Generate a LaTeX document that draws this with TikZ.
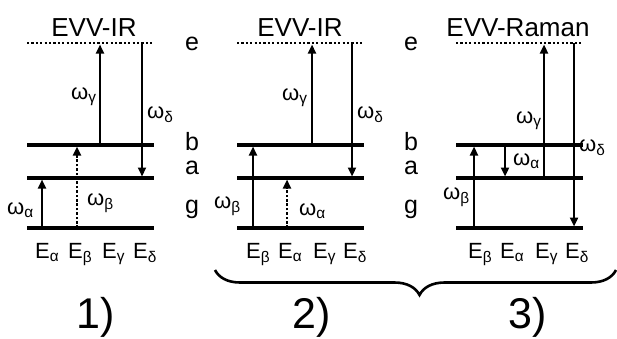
\documentclass[tikz,border=0pt]{standalone}
\usepackage{fontspec}
\setmainfont{Liberation Sans}
\usetikzlibrary{arrows.meta,decorations.pathreplacing}

\begin{document}
\begin{tikzpicture}[x=1pt,y=-1pt,
lvl/.style={line width=3.6pt},
virt/.style={line width=2.3pt,dash pattern=on 2.2pt off 2.2pt},
arr/.style={-{Triangle[length=9pt,width=8pt]},line width=2.2pt,shorten >=1.5pt},
darr/.style={arr,line width=2.8pt,dash pattern=on 2.6pt off 1.8pt},
tit/.style={anchor=base,inner sep=0pt,font=\fontsize{26}{30}\selectfont},
st/.style={anchor=base,inner sep=0pt,font=\fontsize{25}{28}\selectfont},
om/.style={anchor=base west,inner sep=0pt,font=\fontsize{22}{26}\selectfont},
en/.style={anchor=base west,inner sep=0pt,font=\fontsize{22}{26}\selectfont},
num/.style={anchor=base,inner sep=0pt,font=\fontsize{43}{48}\selectfont},
brc/.style={line width=2.6pt,decorate,decoration={brace,mirror,amplitude=25pt,aspect=0.51}}]
\useasboundingbox (0,0) rectangle (617,338);
\foreach \n/\l in {1/27,2/237,3/456}{
\coordinate (e\n) at (\l,43); \coordinate (b\n) at (\l,145);
\coordinate (a\n) at (\l,178); \coordinate (g\n) at (\l,228);
\draw[virt] (e\n) -- ++(127,0);
\draw[lvl] (b\n) -- ++(127,0); \draw[lvl] (a\n) -- ++(127,0); \draw[lvl] (g\n) -- ++(127,0);}
\foreach \n/\x in {1/192,2/411}{
\node[st] (le\n) at (\x,50) {e}; \node[st] (lb\n) at (\x,150) {b};
\node[st] (la\n) at (\x,174) {a}; \node[st] (lg\n) at (\x,213) {g};}
\node[tit] (t1) at (94,36) {EVV-IR};
\node[tit] (t2) at (300,36) {EVV-IR};
\node[tit] (t3) at (518,36) {EVV-Raman};
\draw[arr] ([xshift=15]g1) -- ([xshift=15]a1);
\draw[darr] ([xshift=50]g1) -- ([xshift=50]b1);
\draw[arr] ([xshift=73]b1) -- ([xshift=73]e1);
\draw[arr] ([xshift=115]e1) -- ([xshift=115]a1);
\draw[arr] ([xshift=16]g2) -- ([xshift=16]b2);
\draw[darr] ([xshift=50]g2) -- ([xshift=50]a2);
\draw[arr] ([xshift=75]b2) -- ([xshift=75]e2);
\draw[arr] ([xshift=115]e2) -- ([xshift=115]a2);
\draw[arr] ([xshift=18]g3) -- ([xshift=18]b3);
\draw[arr] ([xshift=49]b3) -- ([xshift=49]a3);
\draw[arr] ([xshift=88]a3) -- ([xshift=88]e3);
\draw[arr] ([xshift=118]e3) -- ([xshift=118]g3);
\node[om] (w1a) at (7,214) {ω\textsubscript{α}};
\node[om] (w1b) at (87,205) {ω\textsubscript{β}};
\node[om] (w1g) at (71,99) {ω\textsubscript{γ}};
\node[om] (w1d) at (147,118) {ω\textsubscript{δ}};
\node[om] (w2b) at (214,208) {ω\textsubscript{β}};
\node[om] (w2a) at (299,215) {ω\textsubscript{α}};
\node[om] (w2g) at (282,100) {ω\textsubscript{γ}};
\node[om] (w2d) at (357,118) {ω\textsubscript{δ}};
\node[om] (w3b) at (443,199) {ω\textsubscript{β}};
\node[om] (w3a) at (513,165) {ω\textsubscript{α}};
\node[om] (w3g) at (516,123) {ω\textsubscript{γ}};
\node[om] (w3d) at (579,151) {ω\textsubscript{δ}};
\foreach \x/\s [count=\i] in {35/α,68/β,102/γ,133/δ}
\node[en] (E1\i) at (\x,258) {E\textsubscript{\s}};
\foreach \x/\s [count=\i] in {246/β,278/α,313/γ,343/δ}
\node[en] (E2\i) at (\x,258) {E\textsubscript{\s}};
\foreach \x/\s [count=\i] in {468/β,500/α,535/γ,565/δ}
\node[en] (E3\i) at (\x,258) {E\textsubscript{\s}};
\coordinate (bl) at (215,270); \coordinate (br) at (616,270);
\draw[brc] (bl) -- (br);
\node[num] (n1) at (96,328) {1)};
\node[num] (n2) at (312,328) {2)};
\node[num] (n3) at (528,328) {3)};
\end{tikzpicture}
\end{document}
